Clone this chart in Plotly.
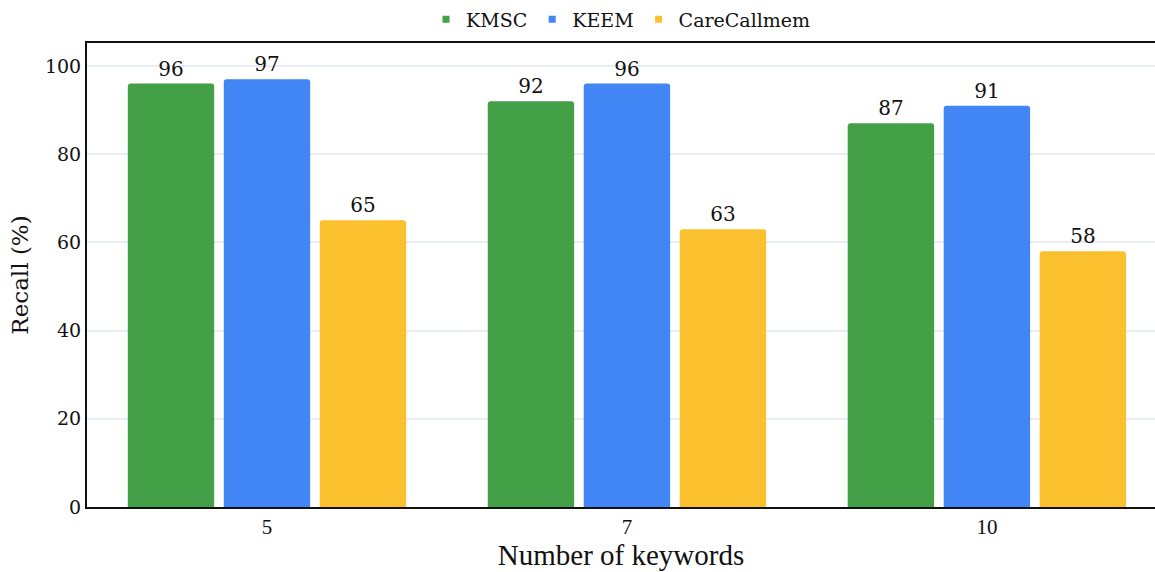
import plotly.graph_objects as go

keywords = ["5", "7", "10"]
kmsc = [96, 92, 87]
keem = [97, 96, 91]
carecallmem = [65, 63, 58]

series = [
    ("KMSC", kmsc, "#43A047"),
    ("KEEM", keem, "#4285F4"),
    ("CareCallmem", carecallmem, "#FBC02D"),
]

fig = go.Figure()
for name, vals, color in series:
    fig.add_trace(go.Bar(
        name=name, x=keywords, y=vals, showlegend=False,
        marker=dict(color=color, line=dict(width=0), cornerradius=3),
        text=[str(v) for v in vals], textposition="outside",
        textfont=dict(family="DejaVu Serif", size=20, color="#111"),
        cliponaxis=False,
    ))

# small square legend keys
for name, vals, color in series:
    fig.add_trace(go.Scatter(
        name=name, x=[None], y=[None], mode="markers",
        marker=dict(symbol="square", size=7, color=color),
    ))

fig.update_layout(
    width=1155, height=572,
    margin=dict(l=87, r=0, t=43, b=65, autoexpand=False),
    paper_bgcolor="white", plot_bgcolor="white",
    barmode="group", bargap=0.2, bargroupgap=0.1,
    font=dict(family="Liberation Serif", color="#111"),
    legend=dict(orientation="h", x=0.5, xanchor="center", y=1.01, yanchor="bottom",
                font=dict(family="DejaVu Serif", size=19), itemwidth=30,
                bgcolor="rgba(0,0,0,0)"),
    xaxis=dict(
        type="category", range=[-0.5, 2.467],
        showline=True, linecolor="#111", linewidth=2, mirror=True,
        ticks="", tickfont=dict(family="Liberation Serif", size=21),
        title=dict(text="Number of keywords", font=dict(family="Liberation Serif", size=29), standoff=6),
        showgrid=False,
    ),
    yaxis=dict(
        range=[0, 105.2], tickvals=[0, 20, 40, 60, 80, 100],
        showline=True, linecolor="#111", linewidth=2,
        gridcolor="#E9EDF5", gridwidth=2, zeroline=False,
        ticks="", tickfont=dict(family="DejaVu Serif", size=19),
        title=dict(text="Recall (%)", font=dict(family="DejaVu Serif", size=23), standoff=10),
    ),
)

fig.write_html("out.html")
